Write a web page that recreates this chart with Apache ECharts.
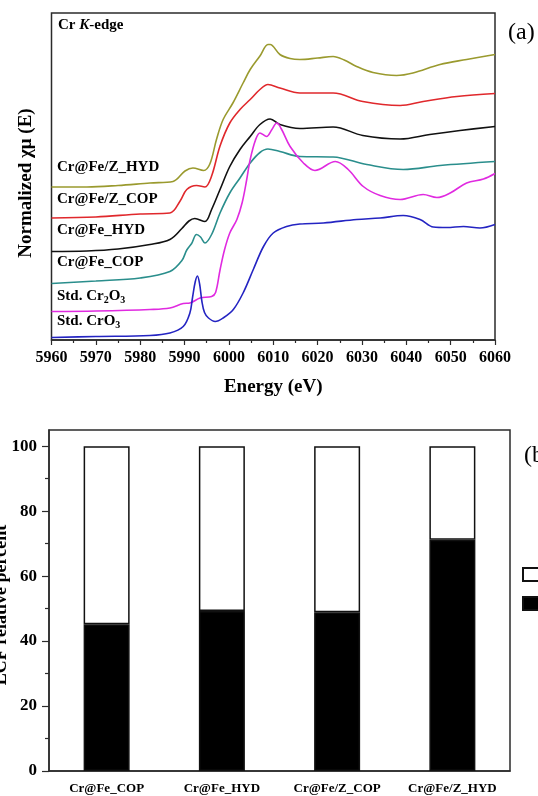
<!DOCTYPE html>
<html>
<head>
<meta charset="utf-8">
<script src="https://cdn.jsdelivr.net/npm/echarts@6/dist/echarts.min.js"></script>
<style>
  html, body { margin: 0; padding: 0; background: #fff; }
  #chart { width: 538px; height: 796px; }
</style>
</head>
<body>
<div id="chart"></div>
<script>
// Cr K-edge XANES spectra: [energy (eV), normalized absorption + vertical offset]
const specFeZHyd = [[5960,3.06],[5968,3.06],[5975,3.09],[5982.2,3.14],[5987.4,3.17],[5990.1,3.38],[5991.9,3.44],[5994.3,3.39],[5995.7,3.52],[5997.2,4.01],[5998.7,4.41],[6000.9,4.74],[6003.2,5.14],[6004.8,5.41],[6007.0,5.68],[6008.8,5.91],[6009.3,5.91],[6011.5,5.71],[6013.8,5.63],[6016.0,5.61],[6020,5.64],[6023.5,5.67],[6026,5.60],[6028.8,5.47],[6032.5,5.35],[6037.8,5.29],[6041.5,5.34],[6047.6,5.51],[6053.6,5.61],[6060,5.71]];
const specFeZCop = [[5960,2.44],[5970,2.46],[5980,2.52],[5986.7,2.54],[5989.0,2.78],[5990.5,3.01],[5992.7,3.09],[5994.6,3.06],[5996.1,3.28],[5998.0,3.88],[6000.2,4.34],[6002.5,4.61],[6004.8,4.81],[6007.0,5.01],[6008.8,5.11],[6011.5,5.04],[6016.0,4.94],[6023.5,4.94],[6030.2,4.77],[6038.6,4.69],[6043.8,4.77],[6051.4,4.87],[6060,4.93]];
const specFeHyd = [[5960,1.77],[5968,1.78],[5975,1.82],[5982.2,1.91],[5986.7,2.01],[5989.4,2.23],[5991.0,2.38],[5992.3,2.43],[5994.6,2.37],[5996.1,2.61],[5998.0,3.01],[6000.2,3.47],[6002.5,3.81],[6004.8,4.07],[6007.0,4.31],[6009.3,4.42],[6011.5,4.31],[6016.0,4.23],[6023.5,4.26],[6030.2,4.09],[6038.6,4.02],[6045.3,4.11],[6052.1,4.19],[6060,4.27]];
const specFeCop = [[5960,1.13],[5970,1.18],[5980,1.24],[5986.7,1.37],[5989.4,1.59],[5990.5,1.80],[5991.6,1.93],[5992.7,2.11],[5993.6,2.06],[5994.6,1.94],[5996.1,2.11],[5998.0,2.54],[6000.2,2.94],[6002.5,3.24],[6004.8,3.54],[6007.0,3.75],[6008.8,3.82],[6011.5,3.77],[6016.0,3.67],[6023.5,3.66],[6031.1,3.51],[6039.3,3.41],[6047.6,3.49],[6060,3.57]];
const specCr2O3 = [[5960,0.57],[5970,0.58],[5982.2,0.61],[5986.7,0.64],[5989.7,0.73],[5991.2,0.74],[5993.5,0.84],[5996.1,0.87],[5997.0,0.95],[5998.0,1.40],[5999.0,1.80],[6000.2,2.14],[6001.8,2.41],[6003.0,2.75],[6004.0,3.20],[6004.8,3.61],[6006.0,4.00],[6007.0,4.14],[6008.5,4.07],[6009.7,4.21],[6010.8,4.34],[6011.9,4.21],[6013.8,3.87],[6016.8,3.54],[6019.4,3.39],[6024.0,3.57],[6026.9,3.41],[6030.3,3.07],[6034.1,2.89],[6038.6,2.81],[6043.8,2.91],[6046.9,2.85],[6049.9,2.94],[6053.6,3.14],[6057.4,3.22],[6060,3.33]];
const specCrO3 = [[5960,0.05],[5970,0.07],[5982.2,0.09],[5986.7,0.14],[5989.7,0.27],[5991.2,0.54],[5991.8,0.85],[5992.4,1.16],[5992.9,1.28],[5993.4,1.12],[5993.9,0.78],[5994.5,0.55],[5995.4,0.44],[5996.9,0.37],[5998.7,0.44],[6001.0,0.61],[6003.2,0.94],[6005.5,1.41],[6007.8,1.87],[6010.0,2.14],[6013.0,2.27],[6016.0,2.32],[6021.3,2.34],[6028.8,2.41],[6034.1,2.44],[6039.3,2.49],[6043.1,2.41],[6046.1,2.26],[6049.1,2.25],[6052.9,2.27],[6056.6,2.24],[6060,2.31]];

// LCF results (relative percent)
const samples = ['Cr@Fe_COP', 'Cr@Fe_HYD', 'Cr@Fe/Z_COP', 'Cr@Fe/Z_HYD'];
const fracLower = [45.2, 49.3, 48.9, 71.2];
const fracUpper = [54.8, 50.7, 51.1, 28.8];
const percentTicks = [0, 20, 40, 60, 80, 100];
const percentMinorTicks = [10, 30, 50, 70, 90];

const SERIF = '"Liberation Serif", "Times New Roman", serif';
const FRAME = '#2b2b2b';

function spectrum(name, data, color) {
  return {
    name: name, type: 'line', xAxisIndex: 0, yAxisIndex: 0,
    data: data, showSymbol: false, smooth: 0.35,
    lineStyle: { color: color, width: 1.6 }, silent: true
  };
}

const subRich = {
  n: { fontFamily: SERIF, fontWeight: 'bold', fontSize: 15, lineHeight: 18 },
  s: { fontFamily: SERIF, fontWeight: 'bold', fontSize: 10, lineHeight: 18, verticalAlign: 'bottom', padding: [8, 0, 0, 0] }
};

const chart = echarts.init(document.getElementById('chart'), null, { renderer: 'canvas' });
chart.setOption({
  animation: false,
  grid: [
    { left: 51.5, top: 13, width: 443.5, height: 327, show: true, borderColor: FRAME, borderWidth: 1.5, backgroundColor: 'transparent' },
    { left: 49, top: 430, width: 461, height: 341, show: true, borderColor: FRAME, borderWidth: 1.5, backgroundColor: 'transparent' }
  ],
  xAxis: [
    {
      gridIndex: 0, type: 'value', min: 5960, max: 6060, interval: 10,
      axisLine: { lineStyle: { color: FRAME, width: 1.5 } },
      axisTick: { length: 5, lineStyle: { color: FRAME, width: 1.2 } },
      minorTick: { show: true, splitNumber: 2, length: 3, lineStyle: { color: FRAME, width: 1.2 } },
      splitLine: { show: false },
      axisLabel: { color: '#000', fontFamily: SERIF, fontWeight: 'bold', fontSize: 16, margin: 10, formatter: (v) => String(v) },
      name: 'Energy (eV)', nameLocation: 'middle', nameGap: 38,
      nameTextStyle: { color: '#000', fontFamily: SERIF, fontWeight: 'bold', fontSize: 19 }
    },
    {
      gridIndex: 1, type: 'category', data: samples,
      axisLine: { lineStyle: { color: FRAME, width: 1.5 } },
      axisTick: { show: false },
      axisLabel: { color: '#000', fontFamily: SERIF, fontWeight: 'bold', fontSize: 13, margin: 11 }
    }
  ],
  yAxis: [
    {
      gridIndex: 0, type: 'value', min: 0, max: 6.54,
      axisLine: { show: false }, axisTick: { show: false }, axisLabel: { show: false }, splitLine: { show: false }
    },
    {
      gridIndex: 1, type: 'value', min: 0, max: 105,
      axisLine: { show: true, lineStyle: { color: FRAME, width: 1.5 } },
      axisTick: { show: true, length: 7, customValues: percentTicks, lineStyle: { color: FRAME, width: 1.2 } },
      axisLabel: { customValues: percentTicks, color: '#000', fontFamily: SERIF, fontWeight: 'bold', fontSize: 17, margin: 12 },
      splitLine: { show: false }
    },
    {
      gridIndex: 1, type: 'value', min: 0, max: 105, position: 'left',
      axisLine: { show: false },
      axisTick: { show: true, length: 4, customValues: percentMinorTicks, lineStyle: { color: FRAME, width: 1.2 } },
      axisLabel: { show: false }, splitLine: { show: false }
    }
  ],
  legend: {
    data: ['Cr(VI)', 'Cr(III)'], orient: 'vertical', left: 522, top: 567, padding: 0,
    itemWidth: 26, itemHeight: 13, itemGap: 14, icon: 'rect',
    textStyle: { fontFamily: SERIF, fontWeight: 'bold', fontSize: 13, lineHeight: 13, color: '#000' }
  },
  series: [
    spectrum('Cr@Fe/Z_HYD', specFeZHyd, '#9a9a2e'),
    spectrum('Cr@Fe/Z_COP', specFeZCop, '#e0282c'),
    spectrum('Cr@Fe_HYD', specFeHyd, '#111111'),
    spectrum('Cr@Fe_COP', specFeCop, '#2a8e8c'),
    spectrum('Std. Cr2O3', specCr2O3, '#e02ae0'),
    spectrum('Std. CrO3', specCrO3, '#2424c2'),
    {
      name: 'Cr(III)', type: 'bar', xAxisIndex: 1, yAxisIndex: 1, stack: 'lcf', barWidth: 46,
      data: fracLower, itemStyle: { color: '#000', borderColor: '#111', borderWidth: 1.5 }
    },
    {
      name: 'Cr(VI)', type: 'bar', xAxisIndex: 1, yAxisIndex: 1, stack: 'lcf', barWidth: 46,
      data: fracUpper, itemStyle: { color: '#fff', borderColor: '#111', borderWidth: 1.5 }
    }
  ],
  graphic: [
    {
      type: 'text', left: 58, top: 18,
      style: {
        text: '{n|Cr }{i|K}{n|-edge}', fill: '#000',
        rich: {
          n: { fontFamily: SERIF, fontWeight: 'bold', fontSize: 15 },
          i: { fontFamily: SERIF, fontWeight: 'bold', fontStyle: 'italic', fontSize: 15 }
        }
      }
    },
    { type: 'text', left: 57, top: 160, style: { text: 'Cr@Fe/Z_HYD', fill: '#000', font: 'bold 15px ' + SERIF } },
    { type: 'text', left: 57, top: 192, style: { text: 'Cr@Fe/Z_COP', fill: '#000', font: 'bold 15px ' + SERIF } },
    { type: 'text', left: 57, top: 223, style: { text: 'Cr@Fe_HYD', fill: '#000', font: 'bold 15px ' + SERIF } },
    { type: 'text', left: 57, top: 255, style: { text: 'Cr@Fe_COP', fill: '#000', font: 'bold 15px ' + SERIF } },
    { type: 'text', left: 57, top: 287, style: { text: '{n|Std. Cr}{s|2}{n|O}{s|3}', fill: '#000', rich: subRich } },
    { type: 'text', left: 57, top: 312, style: { text: '{n|Std. CrO}{s|3}', fill: '#000', rich: subRich } },
    {
      type: 'text', x: 26, y: 183, rotation: Math.PI / 2,
      style: { text: 'Normalized χμ (E)', fill: '#000', font: 'bold 19px ' + SERIF, align: 'center', verticalAlign: 'middle' }
    },
    {
      type: 'text', x: 1, y: 605, rotation: Math.PI / 2,
      style: { text: 'LCF relative percent', fill: '#000', font: 'bold 18px ' + SERIF, align: 'center', verticalAlign: 'middle' }
    },
    { type: 'text', left: 508, top: 21, style: { text: '(a)', fill: '#000', font: '24px ' + SERIF } },
    { type: 'text', left: 524, top: 444, style: { text: '(b)', fill: '#000', font: '24px ' + SERIF } }
  ]
});
</script>
</body>
</html>
